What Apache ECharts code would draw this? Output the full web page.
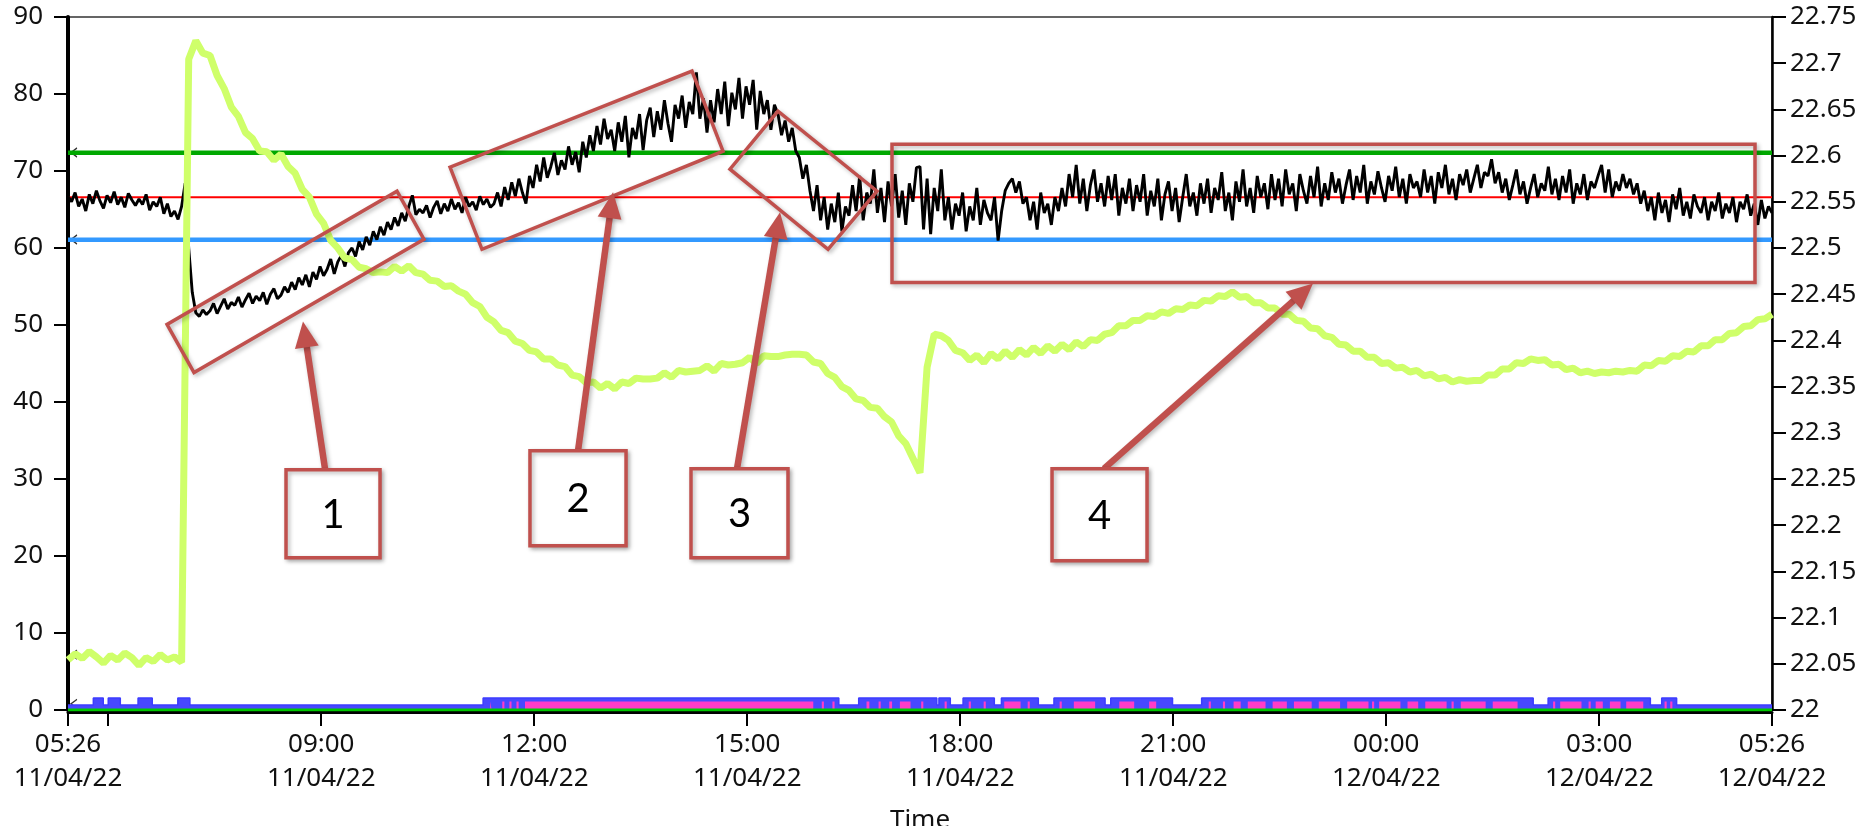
<!DOCTYPE html>
<html>
<head>
<meta charset="utf-8">
<script src="https://cdn.jsdelivr.net/npm/echarts@6/dist/echarts.min.js"></script>
<style>
  html, body { margin: 0; padding: 0; background: #fff; }
  #chart { width: 1863px; height: 826px; }
</style>
</head>
<body>
<div id="chart"></div>
<script>
// Time is expressed in hours from midnight of 11/04/22
const T_START = 5 + 26 / 60;   // 05:26 11/04/22
const T_END = 29 + 26 / 60;    // 05:26 12/04/22
const timeTicks = [T_START, 6, 9, 12, 15, 18, 21, 24, 27, T_END];
const timeLabels = [T_START, 9, 12, 15, 18, 21, 24, 27, T_END];

// Room temperature (right axis, °C), one sample every 3 minutes
const temperature = [
  22.556, 22.550, 22.560, 22.545, 22.553, 22.540, 22.558, 22.548, 22.562, 22.551, 22.543, 22.557, 22.549, 22.561, 22.547, 22.555, 22.544, 22.559, 22.552, 22.546,
  22.553, 22.547, 22.558, 22.541, 22.550, 22.545, 22.555, 22.537, 22.548, 22.534, 22.540, 22.531, 22.545, 22.570, 22.500, 22.452, 22.430, 22.426, 22.433, 22.428,
  22.432, 22.440, 22.429, 22.437, 22.445, 22.434, 22.441, 22.438, 22.447, 22.436, 22.444, 22.451, 22.440, 22.448, 22.443, 22.452, 22.439, 22.450, 22.456, 22.445,
  22.449, 22.458, 22.452, 22.463, 22.455, 22.468, 22.460, 22.471, 22.458, 22.474, 22.466, 22.480, 22.470, 22.477, 22.488, 22.472, 22.485, 22.492, 22.480, 22.495,
  22.500, 22.491, 22.507, 22.498, 22.512, 22.503, 22.518, 22.509, 22.523, 22.514, 22.528, 22.520, 22.533, 22.524, 22.538, 22.529, 22.545, 22.557, 22.536, 22.542,
  22.538, 22.546, 22.533, 22.544, 22.551, 22.537, 22.548, 22.540, 22.553, 22.542, 22.549, 22.538, 22.555, 22.545, 22.550, 22.541, 22.556, 22.547, 22.553, 22.544,
  22.548, 22.560, 22.545, 22.566, 22.552, 22.571, 22.556, 22.575, 22.560, 22.548, 22.578, 22.565, 22.590, 22.572, 22.598, 22.576, 22.588, 22.603, 22.579, 22.595,
  22.585, 22.610, 22.590, 22.604, 22.582, 22.615, 22.598, 22.622, 22.605, 22.632, 22.612, 22.640, 22.618, 22.628, 22.605, 22.636, 22.615, 22.643, 22.598, 22.630,
  22.618, 22.645, 22.606, 22.638, 22.652, 22.620, 22.648, 22.628, 22.660, 22.635, 22.615, 22.655, 22.640, 22.665, 22.630, 22.658, 22.645, 22.690, 22.640, 22.662,
  22.625, 22.660, 22.636, 22.672, 22.645, 22.680, 22.632, 22.668, 22.650, 22.684, 22.640, 22.675, 22.655, 22.682, 22.628, 22.670, 22.645, 22.660, 22.628, 22.655,
  22.645, 22.622, 22.638, 22.615, 22.630, 22.605, 22.598, 22.575, 22.590, 22.562, 22.540, 22.568, 22.530, 22.555, 22.520, 22.548, 22.528, 22.560, 22.518, 22.545,
  22.535, 22.568, 22.540, 22.578, 22.530, 22.560, 22.548, 22.585, 22.538, 22.565, 22.528, 22.572, 22.545, 22.580, 22.533, 22.562, 22.525, 22.570, 22.550, 22.587,
  22.588, 22.520, 22.575, 22.515, 22.565, 22.540, 22.585, 22.530, 22.555, 22.520, 22.548, 22.535, 22.560, 22.518, 22.545, 22.530, 22.565, 22.525, 22.552, 22.538,
  22.530, 22.555, 22.508, 22.540, 22.562, 22.570, 22.575, 22.560, 22.572, 22.548, 22.555, 22.530, 22.550, 22.520, 22.560, 22.538, 22.548, 22.525, 22.555, 22.540,
  22.565, 22.545, 22.580, 22.555, 22.590, 22.548, 22.575, 22.540, 22.568, 22.585, 22.550, 22.570, 22.545, 22.578, 22.552, 22.580, 22.535, 22.565, 22.548, 22.575,
  22.540, 22.568, 22.550, 22.580, 22.535, 22.562, 22.545, 22.575, 22.530, 22.558, 22.572, 22.540, 22.565, 22.528, 22.555, 22.580, 22.545, 22.560, 22.535, 22.570,
  22.548, 22.575, 22.538, 22.565, 22.552, 22.582, 22.540, 22.560, 22.530, 22.572, 22.550, 22.585, 22.545, 22.565, 22.538, 22.578, 22.555, 22.570, 22.542, 22.580,
  22.552, 22.575, 22.545, 22.585, 22.558, 22.570, 22.540, 22.580, 22.562, 22.548, 22.578, 22.555, 22.588, 22.545, 22.570, 22.552, 22.582, 22.560, 22.575, 22.548,
  22.568, 22.585, 22.552, 22.578, 22.560, 22.590, 22.548, 22.572, 22.558, 22.583, 22.565, 22.550, 22.578, 22.562, 22.588, 22.555, 22.575, 22.548, 22.580, 22.565,
  22.572, 22.555, 22.585, 22.560, 22.578, 22.548, 22.582, 22.565, 22.590, 22.558, 22.575, 22.552, 22.580, 22.568, 22.585, 22.560, 22.575, 22.590, 22.565, 22.582,
  22.578, 22.596, 22.570, 22.582, 22.560, 22.575, 22.552, 22.568, 22.585, 22.558, 22.572, 22.548, 22.565, 22.580, 22.555, 22.570, 22.562, 22.588, 22.558, 22.575,
  22.552, 22.578, 22.560, 22.585, 22.548, 22.570, 22.558, 22.580, 22.552, 22.572, 22.565, 22.578, 22.590, 22.560, 22.585, 22.555, 22.572, 22.562, 22.580, 22.565,
  22.575, 22.558, 22.570, 22.548, 22.562, 22.540, 22.555, 22.530, 22.560, 22.538, 22.552, 22.528, 22.558, 22.542, 22.565, 22.535, 22.550, 22.532, 22.558, 22.545,
  22.538, 22.555, 22.530, 22.550, 22.540, 22.560, 22.532, 22.548, 22.538, 22.555, 22.528, 22.550, 22.542, 22.558, 22.535, 22.548, 22.525, 22.552, 22.532, 22.545, 22.538
];

// Relative humidity (left axis, %), one sample every 6 minutes
const humidity = [
  6.5, 7.3, 6.7, 7.6, 6.9, 6.1, 7.1, 6.5, 7.4, 6.8,
  5.8, 6.8, 6.3, 7.2, 6.5, 6.9, 6.2, 84.5, 86.9, 85.3,
  85.0, 82.4, 80.7, 78.3, 77.1, 75.0, 74.2, 72.6, 72.5, 71.4,
  72.2, 70.6, 69.7, 67.6, 66.6, 64.4, 63.2, 61.0, 60.0, 58.7,
  58.5, 57.5, 57.3, 56.8, 56.9, 56.8, 57.6, 57.0, 57.7, 56.8,
  56.6, 55.8, 55.7, 55.0, 55.1, 54.4, 54.0, 52.9, 52.4, 51.0,
  50.4, 49.3, 49.0, 47.9, 47.6, 46.7, 46.5, 45.6, 45.6, 44.8,
  44.6, 43.5, 43.3, 42.5, 42.6, 41.8, 42.4, 41.7, 42.6, 42.4,
  43.1, 43.0, 43.0, 43.1, 43.8, 43.2, 44.1, 43.9, 44.0, 44.1,
  44.7, 44.0, 45.0, 44.8, 44.9, 45.1, 45.8, 45.0, 46.0, 45.9,
  45.9, 46.1, 46.2, 46.2, 46.1, 45.2, 45.0, 43.7, 43.2, 42.0,
  41.5, 40.4, 40.2, 39.3, 39.2, 38.1, 37.4, 35.6, 34.6, 32.7,
  30.8, 44.5, 48.8, 48.6, 48.0, 46.7, 46.4, 45.4, 46.1, 45.1,
  46.3, 45.6, 46.6, 45.8, 46.8, 46.1, 47.1, 46.3, 47.3, 46.6,
  47.5, 46.8, 47.8, 47.2, 48.1, 48.0, 48.8, 49.0, 49.9, 49.9,
  50.6, 50.6, 51.2, 51.1, 51.7, 51.5, 52.1, 52.0, 52.6, 52.5,
  53.2, 53.1, 53.8, 53.7, 54.3, 53.6, 53.7, 52.9, 52.9, 52.2,
  52.2, 51.4, 51.4, 50.6, 50.5, 49.6, 49.5, 48.6, 48.4, 47.5,
  47.4, 46.6, 46.6, 45.8, 45.8, 45.0, 45.1, 44.4, 44.5, 43.9,
  44.1, 43.4, 43.6, 43.0, 43.2, 42.6, 42.9, 42.7, 42.8, 42.8,
  43.5, 43.5, 44.3, 44.3, 45.1, 45.0, 45.6, 45.4, 45.5, 44.8,
  44.9, 44.2, 44.4, 43.8, 44.0, 43.7, 43.9, 43.8, 44.0, 43.9,
  44.1, 44.0, 44.8, 44.7, 45.4, 45.3, 46.0, 45.9, 46.6, 46.5,
  47.3, 47.3, 48.1, 48.1, 48.9, 49.0, 49.8, 49.9, 50.7, 50.8,
  51.4
];

// Temperature limits (right axis, °C)
const limitHigh = 22.603;
const setpoint = 22.555;
const limitLow = 22.509;

// Digital channels: [on, off] in hours
const heaterOn = [
  [5.79, 5.93], [6.00, 6.17], [6.42, 6.62], [6.98, 7.15], [11.28, 16.29], [16.57, 17.67],
  [17.70, 17.86], [18.04, 18.48], [18.58, 19.10], [19.32, 20.04], [20.12, 20.99],
  [21.40, 26.07], [26.28, 27.72], [27.88, 28.09]
];
const fanOn = [
  [11.38, 11.40], [11.55, 11.58], [11.65, 11.68], [11.75, 11.78], [11.87, 15.93], [16.05, 16.08],
  [16.20, 16.23], [16.68, 16.72], [16.85, 16.88], [17.00, 17.04], [17.15, 17.30], [17.45, 17.48],
  [17.78, 17.81], [18.12, 18.15], [18.33, 18.36], [18.62, 18.85], [18.95, 18.98], [19.40, 19.43],
  [19.60, 19.90], [20.24, 20.45], [20.66, 20.76], [21.50, 21.53], [21.70, 21.73], [21.85, 21.95],
  [22.05, 22.30], [22.40, 22.60], [22.70, 22.95], [23.05, 23.35], [23.45, 23.75], [23.80, 23.83],
  [23.90, 24.20], [24.30, 24.45], [24.55, 24.85], [24.92, 24.95], [25.05, 25.40], [25.50, 25.85],
  [26.35, 26.38], [26.45, 26.75], [26.85, 26.88], [26.95, 27.05], [27.15, 27.30], [27.38, 27.62],
  [27.92, 27.95], [28.00, 28.03]
];

// Cursor levels shown at the left edge (left-axis units)
const cursorLevels = [72.4, 61.1, 7.2, 0.8];

// Callout overlays, in (hours, left-axis value)
const RED = '#C0504D';
const calloutFrames = [
  [[6.828, 50.07], [7.208, 43.83], [10.447, 61.13], [10.067, 67.37]],
  [[10.814, 70.49], [11.264, 59.83], [14.659, 72.57], [14.222, 82.98]],
  [[15.433, 77.77], [14.757, 70.23], [16.138, 59.83], [16.828, 67.37]],
  [[17.039, 73.48], [17.039, 55.53], [29.194, 55.53], [29.194, 73.48]]
];
const calloutNumbers = ['1', '2', '3', '4'];
const numberBoxes = [
  [8.504, 31.21, 9.828, 19.77],
  [11.940, 33.68, 13.293, 21.33],
  [14.208, 31.34, 15.574, 19.77],
  [19.293, 31.34, 20.631, 19.38]
];
const arrows = [
  [[9.053, 31.34], [8.743, 50.46]],
  [[12.617, 33.68], [13.11, 67.24]],
  [[14.856, 31.34], [15.462, 64.64]],
  [[20.025, 31.34], [22.968, 55.40]]
];

const FONT = 'Noto Sans';
const pad = n => (n < 10 ? '0' : '') + n;
function timeLabel(v) {
  const total = Math.round(v * 60);
  const day = 11 + Math.floor(total / 1440);
  const m = total % 1440;
  return pad(Math.floor(m / 60)) + ':' + pad(m % 60) + '\n' + day + '/04/22';
}
function spread(values) {
  const step = (T_END - T_START) / (values.length - 1);
  return values.map((v, i) => [T_START + i * step, v]);
}
function stepTrace(intervals, low, high) {
  const pts = [[T_START, low]];
  intervals.forEach(([s, e]) => pts.push([s, low], [s, high], [e, high], [e, low]));
  pts.push([T_END, low]);
  return pts;
}
function flatLine(v) { return [[T_START, v], [T_END, v]]; }

const chart = echarts.init(document.getElementById('chart'), null, { renderer: 'canvas' });

const option = {
  animation: false,
  backgroundColor: '#fff',
  grid: {
    left: 68, right: 91, top: 17, bottom: 116, outerBoundsMode: 'none', containLabel: false,
    show: true, borderColor: '#333', borderWidth: 1.5
  },
  xAxis: {
    type: 'value', min: T_START, max: T_END, offset: 2,
    name: 'Time', nameLocation: 'middle', nameGap: 96,
    nameTextStyle: { fontSize: 26, fontFamily: FONT, color: '#111' },
    axisLine: { show: true, onZero: false, lineStyle: { color: '#000', width: 3 } },
    axisTick: { show: true, length: 14, customValues: timeTicks, lineStyle: { color: '#000', width: 2 } },
    axisLabel: {
      customValues: timeLabels, formatter: timeLabel, margin: 16,
      fontSize: 26, lineHeight: 34, fontFamily: FONT, color: '#111'
    },
    splitLine: { show: false }
  },
  yAxis: [
    {
      type: 'value', min: 0, max: 90, interval: 10, position: 'left',
      axisLine: { show: true, lineStyle: { color: '#000', width: 4 } },
      axisTick: { show: true, length: 14, lineStyle: { color: '#000', width: 2 } },
      axisLabel: { margin: 25, fontSize: 26, fontFamily: FONT, color: '#111' },
      splitLine: { show: false }
    },
    {
      type: 'value', min: 22, max: 22.75, interval: 0.05, position: 'right',
      axisLine: { show: true, lineStyle: { color: '#000', width: 2.5 } },
      axisTick: { show: true, length: 14, lineStyle: { color: '#000', width: 2 } },
      axisLabel: { margin: 18, fontSize: 26, fontFamily: FONT, color: '#111' },
      splitLine: { show: false }
    }
  ],
  series: [
    { name: 'High limit', type: 'line', yAxisIndex: 1, data: flatLine(limitHigh), symbol: 'none', silent: true,
      lineStyle: { color: '#00A800', width: 4.5 } },
    { name: 'Setpoint', type: 'line', yAxisIndex: 1, data: flatLine(setpoint), symbol: 'none', silent: true,
      lineStyle: { color: '#FF0000', width: 2 } },
    { name: 'Low limit', type: 'line', yAxisIndex: 1, data: flatLine(limitLow), symbol: 'none', silent: true,
      lineStyle: { color: '#3399FF', width: 4.5 } },
    { name: 'Temperature', type: 'line', yAxisIndex: 1, data: spread(temperature), showSymbol: false,
      lineStyle: { color: '#000', width: 2.9 } },
    { name: 'Humidity', type: 'line', yAxisIndex: 0, data: spread(humidity), showSymbol: false,
      lineStyle: { color: '#CFFF6A', width: 7 } },
    { name: 'Heater', type: 'line', yAxisIndex: 0, data: stepTrace(heaterOn, 0.65, 1.55), showSymbol: false,
      lineStyle: { color: '#3C3CFF', width: 1.5 }, areaStyle: { color: '#4848FF', opacity: 1 } },
    { name: 'Fan', type: 'line', yAxisIndex: 0, data: stepTrace(fanOn, 0, 1.1), showSymbol: false,
      lineStyle: { width: 0, opacity: 0 }, areaStyle: { color: '#FF3CC8', opacity: 1 } },
    { name: 'Alarm', type: 'line', yAxisIndex: 0, data: flatLine(0), symbol: 'none',
      lineStyle: { color: '#00C800', width: 3 } },
    { name: 'Cursors', type: 'scatter', yAxisIndex: 0, data: cursorLevels.map(v => [T_START, v]),
      symbol: 'path://M8,0 L0,5 L8,10', symbolSize: [6, 9], symbolOffset: [6, 0],
      itemStyle: { color: 'none', borderColor: '#000', borderWidth: 1.2 }, silent: true }
  ]
};
chart.setOption(option);

// Callout overlays anchored to the chart's coordinate system
const toPx = p => chart.convertToPixel({ xAxisIndex: 0, yAxisIndex: 0 }, p);
const shadow = { shadowColor: 'rgba(0,0,0,0.28)', shadowBlur: 4, shadowOffsetX: 2, shadowOffsetY: 2 };
const graphics = [];
calloutFrames.forEach(frame => {
  graphics.push({
    type: 'polygon', z: 100, silent: true,
    shape: { points: frame.map(toPx) },
    style: Object.assign({ fill: 'none', stroke: RED, lineWidth: 3.5, lineJoin: 'miter' }, shadow)
  });
});
arrows.forEach(([from, to]) => {
  const a = toPx(from), b = toPx(to);
  const dx = b[0] - a[0], dy = b[1] - a[1];
  const len = Math.hypot(dx, dy);
  const ux = dx / len, uy = dy / len, nx = -uy, ny = ux;
  const headLen = 26, headHalf = 12;
  const base = [b[0] - ux * headLen, b[1] - uy * headLen];
  graphics.push({
    type: 'line', z: 101, silent: true,
    shape: { x1: a[0], y1: a[1], x2: base[0] + ux * 2, y2: base[1] + uy * 2 },
    style: Object.assign({ stroke: RED, lineWidth: 6.5 }, shadow)
  });
  graphics.push({
    type: 'polygon', z: 101, silent: true,
    shape: { points: [b, [base[0] + nx * headHalf, base[1] + ny * headHalf], [base[0] - nx * headHalf, base[1] - ny * headHalf]] },
    style: Object.assign({ fill: RED }, shadow)
  });
});
numberBoxes.forEach((box, i) => {
  const p0 = toPx([box[0], box[1]]), p1 = toPx([box[2], box[3]]);
  graphics.push({
    type: 'rect', z: 102, silent: true,
    shape: { x: p0[0], y: p0[1], width: p1[0] - p0[0], height: p1[1] - p0[1] },
    style: Object.assign({ fill: '#fff', stroke: RED, lineWidth: 3.5 }, shadow)
  });
  graphics.push({
    type: 'text', z: 103, silent: true,
    x: (p0[0] + p1[0]) / 2, y: (p0[1] + p1[1]) / 2 + 1,
    style: { text: calloutNumbers[i], fontSize: 40, fontFamily: 'Lato', fill: '#000', align: 'center', verticalAlign: 'middle' }
  });
});
chart.setOption({ graphic: graphics });
</script>
</body>
</html>
